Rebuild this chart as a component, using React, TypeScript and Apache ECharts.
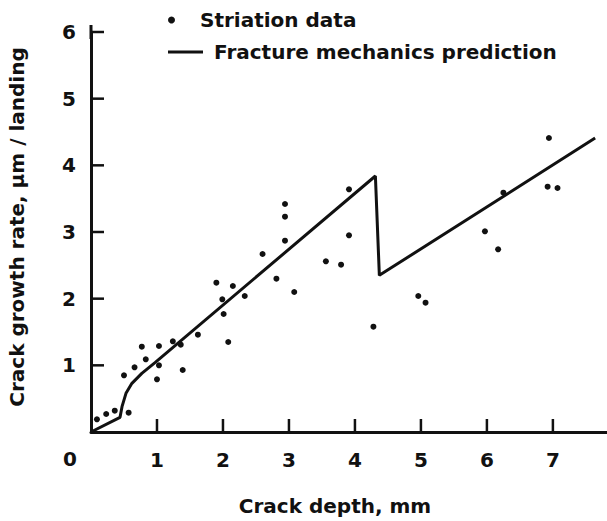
import React, { useEffect, useRef } from "react";
import * as echarts from "echarts";

// Striation data (crack depth mm, growth rate µm/landing)
const striationDepth = [0.09, 0.23, 0.36, 0.57, 0.5, 0.66, 0.77, 0.83, 1.03, 1.03, 1.0, 1.24, 1.36, 1.39, 1.62, 1.9, 2.15, 1.99, 2.01, 2.33, 2.08, 2.81, 3.08, 2.94, 2.94, 2.94, 2.6, 3.91, 3.91, 3.56, 3.79, 4.28, 4.96, 5.07, 5.97, 6.17, 6.25, 6.94, 6.92, 7.07];
const striationRate = [0.19, 0.27, 0.32, 0.29, 0.85, 0.97, 1.28, 1.09, 1.29, 1.0, 0.79, 1.36, 1.31, 0.93, 1.46, 2.24, 2.19, 1.99, 1.77, 2.04, 1.35, 2.3, 2.1, 3.42, 3.23, 2.87, 2.67, 3.64, 2.95, 2.56, 2.51, 1.58, 2.04, 1.94, 3.01, 2.74, 3.59, 4.41, 3.68, 3.66];

// Fracture mechanics prediction
const predictionDepth = [0, 0.44, 0.47, 0.53, 0.62, 0.77, 0.97, 4.31, 4.37, 7.64];
const predictionRate = [0, 0.22, 0.38, 0.58, 0.73, 0.88, 1.04, 3.84, 2.35, 4.41];

// Tick positions
const xTicks = [1, 2, 3, 4, 5, 6, 7];
const yTicks = [1, 2, 3, 4, 5, 6];

const FONT = "DejaVu Sans";
const INK = "#111";
const TICK_LEN = 13;

export default function App() {
  const ref = useRef<HTMLDivElement>(null);
  useEffect(() => {
    if (!ref.current) return;
    const chart = echarts.init(ref.current, null, { renderer: "svg" });
    const textBase = { fontFamily: FONT, fontSize: 20, fontWeight: "bold" as const, color: INK };
    const zeroLabel = {
      type: "text",
      left: 63,
      top: 449,
      style: { text: "0", font: `bold 20px "${FONT}"`, fill: INK },
    };
    chart.setOption({
      animation: false,
      backgroundColor: "#fff",
      textStyle: { fontFamily: FONT },
      grid: { left: 91, right: 0, top: 32, bottom: 89, outerBoundsMode: "none", containLabel: false },
      legend: [
        {
          data: [{ name: "Striation data", icon: "circle" }],
          left: 163,
          top: 5,
          itemWidth: 35,
          itemHeight: 7,
          textStyle: { ...textBase, padding: [0, 0, 0, 6] },
          selectedMode: false,
        },
        {
          data: [{ name: "Fracture mechanics prediction", icon: "rect" }],
          left: 163,
          top: 37,
          itemWidth: 35,
          itemHeight: 3,
          textStyle: { ...textBase, padding: [0, 0, 0, 6] },
          selectedMode: false,
        },
      ],
      xAxis: {
        type: "value",
        min: 0,
        max: 7.82,
        interval: 1,
        name: "Crack depth, mm",
        nameLocation: "middle",
        nameGap: 64,
        nameMoveOverlap: false,
        nameTextStyle: { ...textBase, padding: [0, 28, 0, 0] },
        axisLine: { show: true, onZero: false, lineStyle: { color: INK, width: 3 } },
        axisTick: { show: false },
        axisLabel: { ...textBase, margin: 18, showMinLabel: false, showMaxLabel: false },
        splitLine: { show: false },
      },
      yAxis: {
        type: "value",
        min: 0,
        max: 6,
        interval: 1,
        name: "Crack growth rate, μm / landing",
        nameLocation: "middle",
        nameGap: 64,
        nameMoveOverlap: false,
        nameTextStyle: { ...textBase, padding: [0, 0, 0, 10] },
        axisLine: {
          show: true,
          onZero: false,
          symbol: ["none", "rect"],
          symbolSize: [3, 14],
          lineStyle: { color: INK, width: 3 },
        },
        axisTick: { show: false },
        axisLabel: { ...textBase, margin: 15, showMinLabel: false },
        splitLine: { show: false },
      },
      graphic: [zeroLabel],
      series: [
        {
          name: "Striation data",
          type: "scatter",
          symbol: "circle",
          symbolSize: 6,
          clip: false,
          itemStyle: { color: INK, opacity: 1 },
          data: striationDepth.map((x, i) => [x, striationRate[i]]),
        },
        {
          name: "Fracture mechanics prediction",
          type: "line",
          symbol: "none",
          clip: false,
          lineStyle: { color: INK, width: 3 },
          itemStyle: { color: INK },
          data: predictionDepth.map((x, i) => [x, predictionRate[i]]),
        },
      ],
    });

    // Inward tick marks, positioned through the chart's own scales
    const tickLines: any[] = [];
    xTicks.forEach((v) => {
      const p = chart.convertToPixel({ gridIndex: 0 }, [v, 0]) as number[];
      if (p) {
        tickLines.push({
          type: "line",
          z: 100,
          silent: true,
          shape: { x1: p[0], y1: p[1], x2: p[0], y2: p[1] - TICK_LEN },
          style: { stroke: INK, lineWidth: 2.5 },
        });
      }
    });
    yTicks.forEach((v) => {
      const p = chart.convertToPixel({ gridIndex: 0 }, [0, v]) as number[];
      if (p) {
        tickLines.push({
          type: "line",
          z: 100,
          silent: true,
          shape: { x1: p[0], y1: p[1], x2: p[0] + TICK_LEN, y2: p[1] },
          style: { stroke: INK, lineWidth: 2.5 },
        });
      }
    });
    chart.setOption({ graphic: [zeroLabel, ...tickLines] }, { replaceMerge: ["graphic"] });

    return () => chart.dispose();
  }, []);
  return (
    <div
      ref={ref}
      style={{ position: "fixed", left: 0, top: 0, width: 607, height: 521 }}
    />
  );
}
